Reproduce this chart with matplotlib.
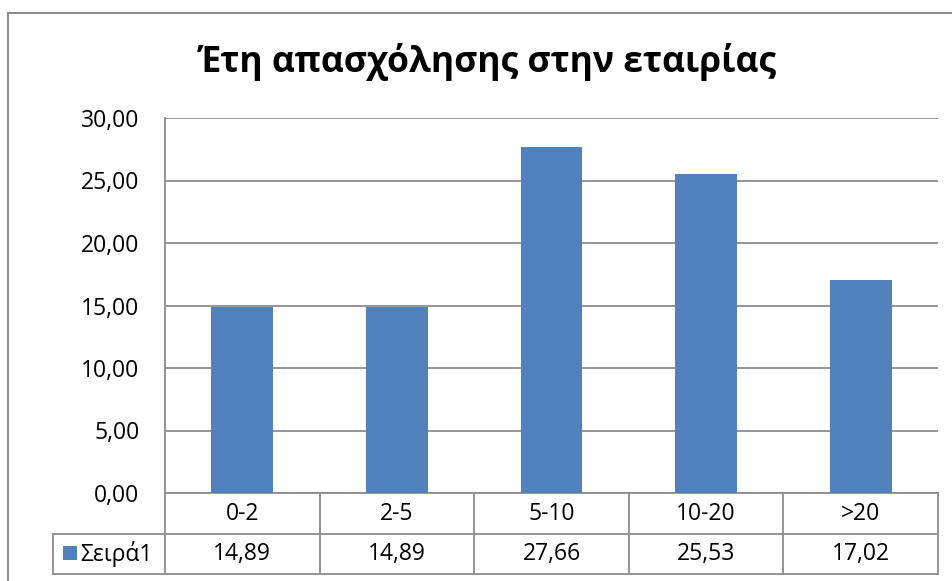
import matplotlib
matplotlib.use("Agg")
import matplotlib.pyplot as plt
from matplotlib.lines import Line2D
from matplotlib.patches import Rectangle

categories = ["0-2", "2-5", "5-10", "10-20", ">20"]
values = [14.89, 14.89, 27.66, 25.53, 17.02]
series_name = "Σειρά1"
title = "Έτη απασχόλησης στην εταιρίας"
yticks = [0, 5, 10, 15, 20, 25, 30]

plt.rcParams['font.family'] = ['Open Sans', 'DejaVu Sans']

W, H = 952, 581
bar_color = "#4F81BD"
line_color = "#8C8C8C"
fs = 16.5

fig = plt.figure(figsize=(W / 100, H / 100), dpi=100)

# plot area in pixels
left, right, top, bottom = 165, 938, 118, 493
ax = fig.add_axes([left / W, 1 - bottom / H, (right - left) / W, (bottom - top) / H])

x = list(range(len(categories)))
ax.bar(x, values, width=0.4, color=bar_color, zorder=3)
ax.set_xlim(-0.5, len(categories) - 0.5)
ax.set_ylim(0, 30)
ax.set_yticks(yticks)
ax.set_yticklabels([f"{v:.2f}".replace(".", ",") for v in yticks], fontsize=fs)
ax.set_xticks([])
ax.tick_params(axis='y', length=0, pad=18.5)
ax.grid(axis='y', color=line_color, linewidth=1.3, zorder=0)
for s in ["top", "right", "bottom"]:
    ax.spines[s].set_visible(False)
ax.spines["left"].set_color(line_color)
ax.spines["left"].set_linewidth(1.3)

# data table under the plot (axes coordinates)
ah = bottom - top
aw = right - left
row1 = -(534 - bottom) / ah
row2 = -(574 - bottom) / ah
leg_x = -(left - 53) / aw
n = len(categories)

def hline(y, x0, x1):
    ax.add_line(Line2D([x0, x1], [y, y], transform=ax.transAxes, color=line_color,
                       linewidth=1.3, clip_on=False))

def vline(xx, y0, y1):
    ax.add_line(Line2D([xx, xx], [y0, y1], transform=ax.transAxes, color=line_color,
                       linewidth=1.3, clip_on=False))

hline(0, 0, 1)
hline(row1, leg_x, 1)
hline(row2, leg_x, 1)
vline(leg_x, row1, row2)
for i in range(n + 1):
    vline(i / n, 0, row2)

for i, (c, v) in enumerate(zip(categories, values)):
    cx = (i + 0.5) / n
    ax.text(cx, row1 / 2, c, transform=ax.transAxes, ha='center', va='center',
            fontsize=fs)
    ax.text(cx, (row1 + row2) / 2, f"{v:.2f}".replace(".", ","), transform=ax.transAxes,
            ha='center', va='center', fontsize=fs)

# legend key in the table
ax.add_patch(Rectangle((63 / W, 1 - 560 / H), 14 / W, 14 / H, transform=fig.transFigure,
                       facecolor=bar_color, edgecolor='none', clip_on=False))
fig.text(80 / W, 1 - 554 / H, series_name, ha='left', va='center', fontsize=fs)

# title
fig.text(488 / W, 1 - 62 / H, title, ha='center', va='center', fontsize=25.5,
         fontweight='bold')

# chart border
fig.add_artist(Line2D([7.5 / W, 7.5 / W], [0, 1 - 13 / H], transform=fig.transFigure,
                      color=line_color, linewidth=1.5))
fig.add_artist(Line2D([7.5 / W, 1], [1 - 13 / H, 1 - 13 / H], transform=fig.transFigure,
                      color=line_color, linewidth=1.5))

fig.savefig("out.png", dpi=100)
